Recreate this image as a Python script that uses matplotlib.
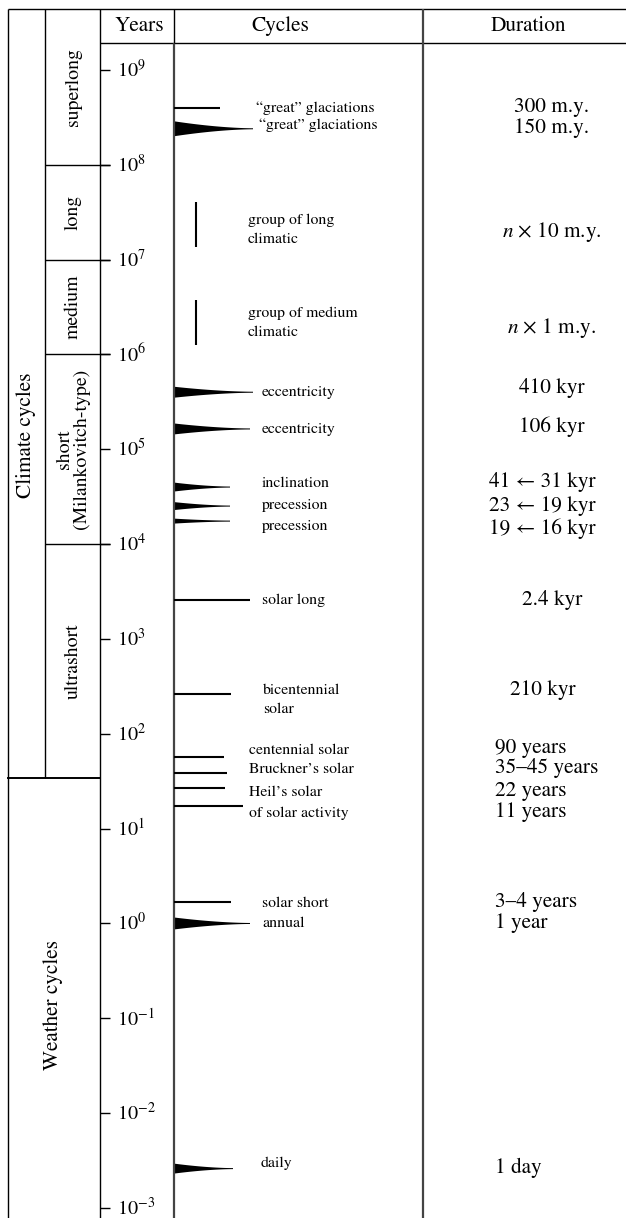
import numpy as np
import matplotlib
matplotlib.use("Agg")
import matplotlib.pyplot as plt

plt.rcParams['font.family'] = ['STIXGeneral', 'Liberation Serif', 'DejaVu Serif']
plt.rcParams['mathtext.fontset'] = 'stix'

# ---------------- data ----------------
decades = list(range(-3, 10))
tick_labels = [f'$10^{{{d}}}$' for d in decades]

class_names = ['superlong', 'long', 'medium', 'short\n(Milankovitch-type)', 'ultrashort']
class_lower = [1e8, 1e7, 1e6, 1e4, 34.4]          # lower bound (years) of each class
group_names = ['Climate cycles', 'Weather cycles']

cycle_labels = ['\u201cgreat\u201d glaciations', '\u201cgreat\u201d glaciations',
                'group of long\nclimatic', 'group of medium\nclimatic',
                'eccentricity', 'eccentricity', 'inclination', 'precession', 'precession',
                'solar long', 'bicentennial\nsolar', 'centennial solar',
                'Bruckner\u2019s solar', 'Heil\u2019s solar', 'of solar activity',
                'solar short', 'annual', 'daily']
cycle_kind = ['line', 'wedge', 'vline', 'vline', 'wedge', 'wedge', 'wedge', 'wedge', 'wedge',
              'line', 'line', 'line', 'line', 'line', 'line', 'line', 'wedge', 'wedge']
# plotted period (years); for vertical bars: (low, high)
cycle_period = [4.0e8, 2.4e8, (1.36e7, 4.06e7), (1.26e6, 3.76e6),
                4.0e5, 1.64e5, 4.0e4, 2.52e4, 1.75e4,
                2.58e3, 263, 57, 38.6, 26.8, 17.3, 1.68, 1.0, 2.6e-3]

durations = ['300 m.y.', '150 m.y.', '$n$ \u00d7 10 m.y.', '$n$ \u00d7 1 m.y.',
             '410 kyr', '106 kyr', '41 \u2190 31 kyr', '23 \u2190 19 kyr', '19 \u2190 16 kyr',
             '2.4 kyr', '210 kyr', '90 years', '35\u201345 years', '22 years', '11 years',
             '3\u20134 years', '1 year', '1 day']

# ---------------- layout / style ----------------
W, H = 626, 1218
PXD = 94.83                      # pixels per decade
TOP = 9 + 70 / PXD               # log10 value at the top edge
BOT = TOP - H / PXD

def row(r):
    return 10 ** (TOP - r / PXD)

mark_end = [220, 253, 196, 196, 253, 250, 230, 230, 230, 250, 231, 224, 227, 225, 243, 231, 250, 233]
wedge_h = [0, 14, 0, 0, 10, 10, 8, 7, 4, 0, 0, 0, 0, 0, 0, 0, 11, 9]
label_x = [256, 259, 248, 248, 262, 262, 262, 262, 262, 262, 263, 249, 249, 249, 249, 262, 262, 261]
label_row = [108, 125, 229.5, 323, 392, 429, 483, 505, 526, 600, 700, 750, 769, 792, 813, 903, 923, 1163]
dur_x = [552, 552, 552, 552, 552, 552, 489, 489, 489, 552, 543, 495, 495, 495, 495, 495, 495, 495]
dur_ha = ['center'] * 6 + ['left'] * 3 + ['center', 'center'] + ['left'] * 7
dur_row = [107, 128, 232, 328, 388, 427, 482, 506, 529, 600, 690, 748, 768, 791, 812, 902, 923, 1168]

X0, XA, XY, XC, XD = 8, 45, 100, 174, 423
BIG = 15.3
SMALL = 11.3

fig = plt.figure(figsize=(W / 100, H / 100), dpi=100)
ax = fig.add_axes([0, 0, 1, 1])
ax.set_xlim(0, W)
ax.set_yscale('log')
ax.set_ylim(10 ** BOT, 10 ** TOP)
ax.axis('off')

kw = dict(color='black', lw=1.0, clip_on=False, solid_capstyle='butt')
gkw = dict(color='#444444', lw=1.6, clip_on=False, solid_capstyle='butt')

# table frame
ax.plot([X0, W], [row(8.5)] * 2, **kw)
ax.plot([XY, W], [row(43)] * 2, **kw)
ax.plot([X0, X0], [row(8.5), row(H)], **kw)
ax.plot([XA, XA], [row(8.5), class_lower[-1]], **kw)
ax.plot([XY, XY], [row(8.5), row(H)], **kw)
ax.plot([XC, XC], [row(43), row(H)], **gkw)
ax.plot([XC, XC], [row(8.5), row(43)], **kw)
ax.plot([XD, XD], [row(8.5), row(H)], **gkw)
for b in class_lower[:-1]:
    ax.plot([XA, XY + 10], [b, b], **kw)
ax.plot([X0, XY], [class_lower[-1]] * 2, color='black', lw=1.4, clip_on=False)

# decade ticks and labels
for d, lab in zip(decades, tick_labels):
    ax.plot([XY, XY + 10], [10.0 ** d] * 2, **kw)
    ax.text(XY + 17, 10.0 ** d, lab, fontsize=14.5, ha='left', va='center')

# headers
hy = row(26)
ax.text(139, hy, 'Years', fontsize=BIG, ha='center', va='center')
ax.text(280, hy, 'Cycles', fontsize=BIG, ha='center', va='center')
ax.text(528, hy, 'Duration', fontsize=BIG, ha='center', va='center')

# class labels (rotated)
uppers = [row(8.5)] + class_lower[:-1]
for name, lo, hi in zip(class_names, class_lower, uppers):
    mid = np.sqrt(lo * hi)
    ax.text(73, mid, name, fontsize=14.2, rotation=90, ha='center', va='center',
            multialignment='center', linespacing=1.0)
ax.text(26, row(435), group_names[0], fontsize=15.3, rotation=90, ha='center', va='center')
ax.text(53, row(1005), group_names[1], fontsize=15.3, rotation=90, ha='center', va='center')

# cycle marks
t = np.linspace(0, 1, 60)
for kind, per, xe, h in zip(cycle_kind, cycle_period, mark_end, wedge_h):
    if kind == 'line':
        ax.plot([XC, xe], [per, per], color='black', lw=1.5, solid_capstyle='butt')
    elif kind == 'vline':
        ax.plot([xe, xe], [per[0], per[1]], color='black', lw=1.5, solid_capstyle='butt')
    else:
        half = (h / 2) * (1 - t) ** 1.7 + 0.5
        xs = XC + t * (xe - XC)
        f = 10 ** (half / PXD)
        xx = np.concatenate([xs, xs[::-1]])
        yy = np.concatenate([per * f, (per / f)[::-1]])
        ax.fill(xx, yy, color='black', lw=0)

# cycle labels
for lab, x, r in zip(cycle_labels, label_x, label_row):
    ax.text(x, row(r), lab, fontsize=SMALL, ha='left', va='center', linespacing=1.55)

# durations
for lab, x, ha, r in zip(durations, dur_x, dur_ha, dur_row):
    ax.text(x, row(r), lab, fontsize=BIG, ha=ha, va='center')

fig.savefig('out.png', dpi=100)
